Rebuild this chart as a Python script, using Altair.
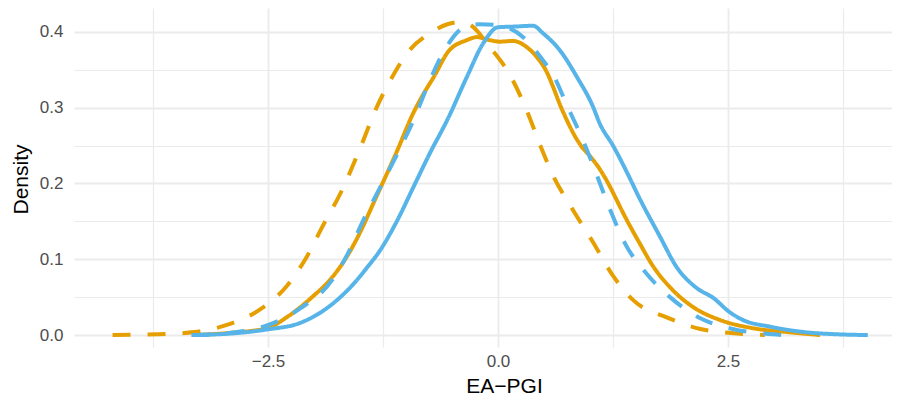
import altair as alt
import pandas as pd

# Blue solid curve
blue_solid_x = [-3.33, -2.9, -2.5, -2.15, -1.79, -1.53, -1.43, -1.28, -1.1, -0.92, -0.74, -0.55,
                -0.34, -0.16, 0.0, 0.2, 0.38, 0.49, 0.67, 0.86, 1.03, 1.11, 1.25, 1.4, 1.54, 1.76,
                1.94, 2.16, 2.34, 2.52, 2.66, 2.96, 3.32, 3.68, 4.02]
blue_solid_y = [0.0, 0.002, 0.0075, 0.016, 0.042, 0.073, 0.088, 0.112, 0.15, 0.195, 0.24, 0.284,
                0.34, 0.385, 0.406, 0.407, 0.408, 0.398, 0.376, 0.34, 0.302, 0.278, 0.25, 0.215, 0.18,
                0.13, 0.09, 0.062, 0.049, 0.030, 0.020, 0.011, 0.004, 0.001, 0.0]

# Blue dashed curve
blue_dashed_x = [-3.33, -2.9, -2.55, -2.15, -1.8, -1.63, -1.47, -1.28, -1.09, -0.92, -0.74, -0.58,
                 -0.38, -0.2, 0.0, 0.1, 0.31, 0.46, 0.6, 0.75, 0.93, 1.08, 1.22, 1.38, 1.6, 1.87,
                 2.2, 2.55, 2.99, 3.1]
blue_dashed_y = [0.0, 0.003, 0.011, 0.035, 0.073, 0.108, 0.15, 0.195, 0.24, 0.283, 0.336, 0.376,
                 0.405, 0.41, 0.409, 0.406, 0.389, 0.367, 0.343, 0.303, 0.255, 0.209, 0.165, 0.121,
                 0.083, 0.05, 0.022, 0.008, 0.001, 0.0]

# Orange solid curve
orange_solid_x = [-3.3, -2.9, -2.51, -2.29, -2.04, -1.79, -1.63, -1.53, -1.32, -1.1, -0.92, -0.81,
                  -0.7, -0.54, -0.34, -0.23, -0.09, 0.02, 0.16, 0.31, 0.42, 0.53, 0.6, 0.67, 0.75,
                  0.82, 0.9, 1.0, 1.1, 1.18, 1.27, 1.36, 1.54, 1.69, 1.87, 2.12, 2.41, 2.77, 3.14, 3.5]
orange_solid_y = [0.0, 0.003, 0.009, 0.024, 0.048, 0.078, 0.106, 0.128, 0.183, 0.242, 0.293, 0.318,
                  0.34, 0.374, 0.389, 0.393, 0.389, 0.387, 0.388, 0.38, 0.367, 0.347, 0.327, 0.305,
                  0.283, 0.266, 0.25, 0.236, 0.22, 0.204, 0.183, 0.161, 0.121, 0.09, 0.063, 0.037,
                  0.02, 0.009, 0.004, 0.0]

# Orange dashed curve
orange_dashed_x = [-4.19, -3.7, -3.3, -2.93, -2.57, -2.3, -2.08, -1.9, -1.7, -1.5, -1.32, -1.17,
                   -0.96, -0.74, -0.55, -0.41, -0.3, -0.09, 0.13, 0.31, 0.46, 0.6, 0.8, 1.03, 1.24,
                   1.47, 1.84, 2.2, 2.6, 2.9]
orange_dashed_y = [0.0, 0.001, 0.004, 0.014, 0.035, 0.064, 0.103, 0.145, 0.19, 0.246, 0.30, 0.336,
                   0.376, 0.398, 0.41, 0.413, 0.409, 0.38, 0.343, 0.297, 0.25, 0.21, 0.168, 0.123,
                   0.08, 0.046, 0.023, 0.008, 0.002, 0.0]

x_grid = [-3.75, -2.5, -1.25, 0.0, 1.25, 2.5, 3.75]
y_grid = [0.0, 0.05, 0.1, 0.15, 0.2, 0.25, 0.3, 0.35, 0.4]

ORANGE = "#E69F00"
BLUE = "#56B4E9"

x_scale = alt.Scale(domain=[-4.609, 4.283], nice=False, zero=False)
y_scale = alt.Scale(domain=[-0.0158, 0.4314], nice=False, zero=False)

x_axis = alt.Axis(
    values=x_grid,
    title="EA\u2212PGI",
    labelExpr="abs(datum.value % 2.5) < 0.01 ? format(datum.value, '.1f') : ''",
    ticks=False, domain=False, grid=True,
    gridColor="#EBEBEB",
    gridWidth={"condition": {"test": "abs(datum.value % 2.5) > 0.01", "value": 1.2}, "value": 1.8},
    labelFont="Liberation Sans", labelFontSize=17, labelColor="#4D4D4D", labelPadding=6,
    titleFont="Liberation Sans", titleFontSize=21, titleFontWeight="normal", titleColor="#000000",
    titleX=430, titleY=45, titleBaseline="alphabetic", titleAlign="center",
)
y_axis = alt.Axis(
    values=y_grid,
    title="Density",
    labelExpr="abs(datum.value * 10 - round(datum.value * 10)) < 0.01 ? format(datum.value, '.1f') : ''",
    ticks=False, domain=False, grid=True,
    gridColor="#EBEBEB",
    gridWidth={"condition": {"test": "abs(datum.value * 10 - round(datum.value * 10)) > 0.01", "value": 1.2}, "value": 1.8},
    labelFont="Liberation Sans", labelFontSize=17, labelColor="#4D4D4D", labelPadding=11,
    titleFont="Liberation Sans", titleFontSize=21, titleFontWeight="normal", titleColor="#000000",
    titleX=-47, titleY=171, titleAngle=270, titleBaseline="alphabetic", titleAlign="center",
)


def curve(xs, ys, color, dashed):
    df = pd.DataFrame({"x": xs, "y": ys})
    mark = alt.Chart(df).mark_line(
        color=color, strokeWidth=4, interpolate="monotone",
        strokeDash=[18, 17] if dashed else [1, 0], strokeCap="butt",
    )
    return mark.encode(
        x=alt.X("x:Q", scale=x_scale, axis=x_axis),
        y=alt.Y("y:Q", scale=y_scale, axis=y_axis),
    )


chart = alt.layer(
    curve(orange_dashed_x, orange_dashed_y, ORANGE, True),
    curve(orange_solid_x, orange_solid_y, ORANGE, False),
    curve(blue_dashed_x, blue_dashed_y, BLUE, True),
    curve(blue_solid_x, blue_solid_y, BLUE, False),
).properties(
    width=818, height=339,
    autosize=alt.AutoSizeParams(type="none"),
    padding={"left": 66, "top": 0, "right": 0, "bottom": 50},
    background="white",
).configure_view(stroke=None)

chart.save("out.html", embed_options={"renderer": "svg", "actions": False})
